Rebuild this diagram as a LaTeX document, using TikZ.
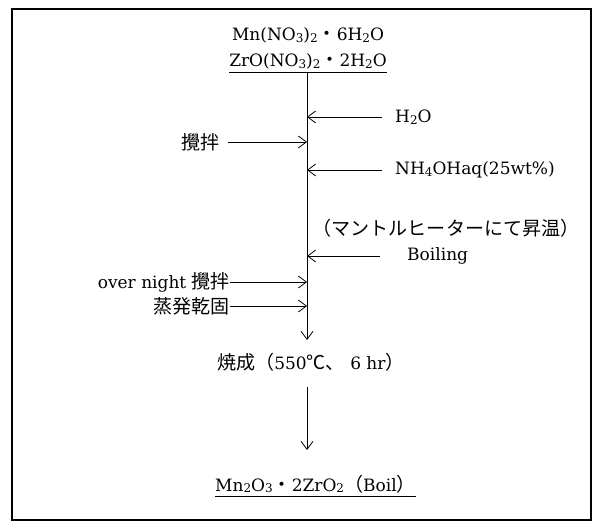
\documentclass[tikz,border=0pt]{standalone}
\usepackage{fontspec}
\setmainfont{DejaVu Serif}
\newfontfamily\cjk[Scale=1.12]{Noto Sans CJK JP}
\usetikzlibrary{arrows.meta}
\newcommand{\sbs}[1]{\raisebox{-1.5pt}{\fontsize{12}{12}\selectfont #1}}
\newcommand{\mdot}{{\cjk ・}}
\tikzset{
  txt/.style={inner sep=0pt, font=\fontsize{17}{20}\selectfont},
  arr/.style={line width=0.8pt, -{Straight Barb[length=8pt,width=12pt,line width=0.8pt]}},
  plain/.style={line width=0.8pt},
}
\begin{document}
\begin{tikzpicture}[x=1pt,y=-1pt]
\useasboundingbox (0,0) rectangle (600,529);
\draw[line width=1.2pt] (12,9) rectangle (591,520);

\node[txt, anchor=base] (mn) at (308,41) {Mn(NO\sbs{3})\sbs{2}\mdot 6H\sbs{2}O};
\node[txt, anchor=base] (zro) at (308,67) {ZrO(NO\sbs{3})\sbs{2}\mdot 2H\sbs{2}O};
\draw[plain] ([yshift=-5pt]zro.base west) -- ([yshift=-5pt]zro.base east);

\coordinate (top) at (307,73);
\coordinate (s1) at (307,340);
\coordinate (s2) at (307,387);
\coordinate (s3) at (307,450);

\node[txt, anchor=west] (h2o) at (395,117) {H\sbs{2}O};
\node[txt, anchor=east] (k1) at (220,142) {\cjk 攪拌};
\node[txt, anchor=west] (nh4) at (395,170) {NH\sbs{4}OHaq(25wt\%)};
\node[txt, anchor=center] (mant) at (446,228) {\cjk （マントルヒーターにて昇温）};
\node[txt, anchor=west] (boil) at (407,256) {Boiling};
\node[txt, anchor=east] (on) at (230,282) {over night {\cjk 攪拌}};
\node[txt, anchor=east] (evap) at (230,306) {\cjk 蒸発乾固};
\node[txt, anchor=west] (fire) at (217,362) {{\cjk 焼成（}550{\cjk ℃、} 6 hr{\cjk ）}};
\node[txt, anchor=base west] (prod) at (215,491) {Mn\sbs{2}O\sbs{3}\mdot 2ZrO\sbs{2}{\cjk （}Boil{\cjk ）}\hspace{10pt}};
\draw[plain] ([yshift=-5pt]prod.base west) -- ([yshift=-5pt]prod.base east);

\draw[arr] (top) -- (s1);
\draw[arr] (s2) -- (s3);
\draw[arr] ([xshift=-13pt]h2o.west) -- (h2o.west -| top);
\draw[arr] ([xshift=8pt]k1.east) -- (k1.east -| top);
\draw[arr] ([xshift=-13pt]nh4.west) -- (nh4.west -| top);
\draw[arr] ([xshift=-27pt]boil.west) -- (boil.west -| top);
\draw[arr] (on.east) -- (on.east -| top);
\draw[arr] (evap.east) -- (evap.east -| top);
\end{tikzpicture}
\end{document}
